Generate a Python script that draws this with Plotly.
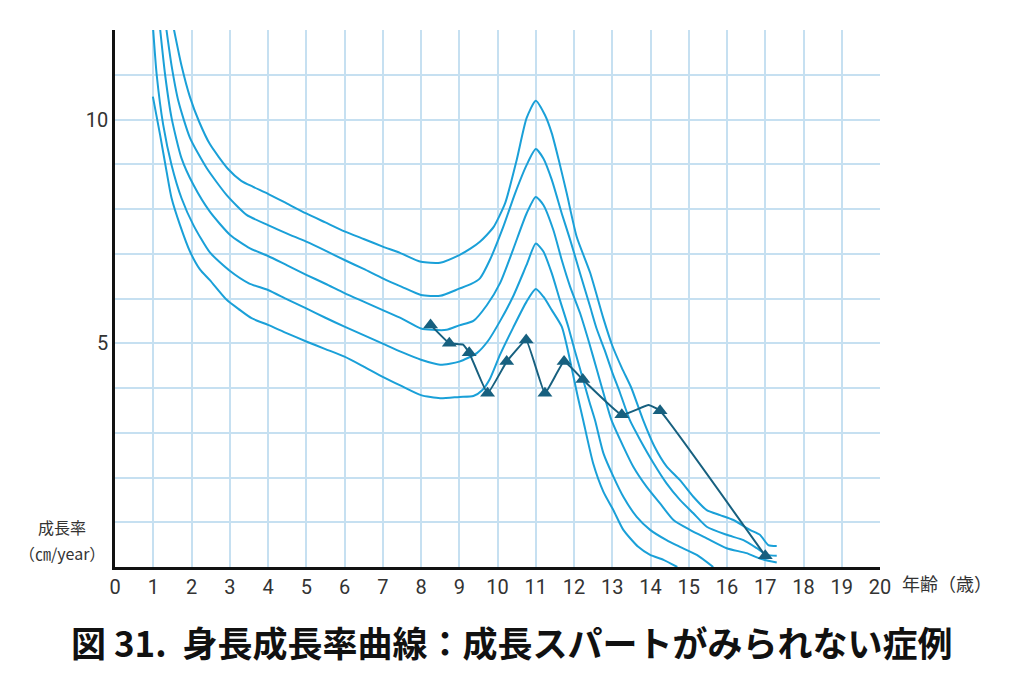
import plotly.graph_objects as go

# ---- data ----
ages_ticks = list(range(0, 21))
rate_ticks = list(range(0, 13))
rate_ticktext = ["" if v not in (5, 10) else str(v) for v in rate_ticks]

# percentile growth-rate curves (lowest A ... highest E)
curve_a_x = [0.99, 1.18, 1.35, 1.48, 1.7, 1.96, 2.22, 2.48, 2.92, 3.27, 3.57, 4.0, 4.5, 5.0, 5.5, 6.0, 6.5, 7.0, 7.5, 8.0, 8.5, 9.0, 9.37, 9.6, 9.8, 10.07, 10.41, 10.76, 11.0, 11.2, 11.42, 11.68, 11.85, 12.0, 12.1, 12.24, 12.5, 12.77, 13.03, 13.29, 13.68, 13.99, 14.34, 14.7]
curve_a_y = [10.51, 9.65, 8.83, 8.24, 7.64, 7.05, 6.65, 6.41, 5.97, 5.74, 5.56, 5.41, 5.22, 5.04, 4.87, 4.7, 4.48, 4.25, 4.04, 3.84, 3.77, 3.8, 3.82, 3.95, 4.2, 4.75, 5.35, 5.93, 6.21, 6.04, 5.74, 5.37, 4.8, 4.2, 3.8, 3.28, 2.32, 1.68, 1.27, 0.83, 0.45, 0.27, 0.16, 0.0]

curve_b_x = [0.99, 1.09, 1.26, 1.48, 1.74, 2.05, 2.48, 3.0, 3.5, 4.0, 4.5, 5.0, 5.5, 6.0, 6.5, 7.0, 7.5, 8.0, 8.5, 9.0, 9.46, 9.75, 10.07, 10.41, 10.76, 11.0, 11.2, 11.42, 11.63, 11.85, 12.0, 12.2, 12.4, 12.55, 12.77, 13.03, 13.29, 13.64, 13.99, 14.42, 14.77, 15.21, 15.64]
curve_b_y = [12.1, 11.0, 9.88, 8.98, 8.24, 7.64, 7.03, 6.62, 6.34, 6.19, 5.98, 5.78, 5.57, 5.37, 5.18, 4.99, 4.8, 4.63, 4.52, 4.59, 4.78, 5.05, 5.5, 6.05, 6.75, 7.23, 7.05, 6.56, 5.97, 5.37, 4.9, 4.3, 3.7, 3.28, 2.54, 2.02, 1.57, 1.12, 0.83, 0.6, 0.45, 0.27, 0.0]

curve_c_x = [1.17, 1.31, 1.48, 1.74, 2.05, 2.48, 3.01, 3.53, 4.0, 4.5, 5.0, 5.5, 6.0, 6.5, 7.0, 7.5, 8.0, 8.3, 8.67, 9.0, 9.37, 9.72, 10.07, 10.41, 10.76, 11.0, 11.2, 11.46, 11.68, 11.9, 12.16, 12.4, 12.6, 12.8, 12.98, 13.29, 13.55, 13.9, 14.25, 14.6, 15.03, 15.47, 15.99, 16.51, 16.86, 17.3]
curve_c_y = [12.1, 11.0, 10.03, 9.13, 8.54, 7.94, 7.42, 7.12, 6.95, 6.74, 6.53, 6.33, 6.12, 5.93, 5.74, 5.55, 5.33, 5.3, 5.3, 5.4, 5.5, 5.85, 6.35, 7.1, 7.9, 8.27, 8.09, 7.53, 6.86, 6.26, 5.67, 5.0, 4.4, 3.8, 3.28, 2.69, 2.24, 1.79, 1.42, 1.05, 0.83, 0.64, 0.42, 0.31, 0.19, 0.1]

curve_d_x = [1.33, 1.48, 1.66, 1.96, 2.4, 2.92, 3.44, 4.0, 4.5, 5.0, 5.5, 6.0, 6.5, 7.0, 7.5, 8.0, 8.5, 9.0, 9.3, 9.54, 9.8, 10.15, 10.46, 10.76, 11.0, 11.2, 11.42, 11.68, 11.9, 12.16, 12.42, 12.59, 12.8, 13.0, 13.2, 13.46, 13.73, 14.08, 14.42, 14.77, 15.12, 15.47, 15.99, 16.43, 16.78, 17.04, 17.3]
curve_d_y = [12.1, 11.2, 10.4, 9.59, 8.91, 8.31, 7.87, 7.64, 7.45, 7.27, 7.07, 6.86, 6.66, 6.45, 6.26, 6.08, 6.06, 6.22, 6.32, 6.45, 6.86, 7.6, 8.35, 8.98, 9.34, 9.13, 8.65, 7.9, 7.31, 6.56, 5.82, 5.33, 4.85, 4.35, 3.9, 3.28, 2.84, 2.32, 1.87, 1.5, 1.2, 0.9, 0.72, 0.6, 0.42, 0.27, 0.25]

curve_e_x = [1.52, 1.74, 1.96, 2.2, 2.48, 2.95, 3.3, 3.6, 4.0, 4.5, 5.0, 5.5, 6.0, 6.5, 7.0, 7.45, 8.0, 8.5, 9.0, 9.3, 9.54, 9.72, 9.9, 10.2, 10.5, 10.76, 11.0, 11.24, 11.42, 11.6, 11.81, 12.07, 12.42, 12.77, 13.0, 13.25, 13.5, 13.8, 14.1, 14.42, 14.77, 15.12, 15.47, 15.82, 16.17, 16.6, 16.86, 17.08, 17.3]
curve_e_y = [12.1, 11.2, 10.5, 9.95, 9.45, 8.9, 8.63, 8.5, 8.34, 8.12, 7.9, 7.7, 7.5, 7.33, 7.16, 7.02, 6.82, 6.8, 6.97, 7.12, 7.27, 7.42, 7.6, 8.13, 9.09, 10.03, 10.42, 10.1, 9.69, 9.1, 8.35, 7.38, 6.58, 5.55, 4.95, 4.45, 4.0, 3.3, 2.7, 2.25, 1.94, 1.57, 1.27, 1.16, 1.05, 0.83, 0.72, 0.49, 0.47]

# patient measurements (triangles) and the drawn connecting path
patient_x = [8.25, 8.74, 9.26, 9.74, 10.24, 10.75, 11.24, 11.74, 12.23, 13.25, 14.25, 17.0]
patient_y = [5.41, 5.0, 4.79, 3.88, 4.59, 5.07, 3.88, 4.59, 4.19, 3.4, 3.49, 0.25]
patient_path_x = [8.25, 8.74, 9.1, 9.26, 9.74, 10.24, 10.75, 11.24, 11.74, 12.23, 13.25, 13.95, 14.25, 17.0]
patient_path_y = [5.41, 5.0, 4.97, 4.79, 3.88, 4.59, 5.07, 3.88, 4.59, 4.19, 3.4, 3.62, 3.49, 0.25]

CURVE_COLOR = "#1aa0d8"
PATIENT_COLOR = "#17607f"
GRID_COLOR = "#c6e0f1"

fig = go.Figure()
for cx, cy in [(curve_a_x, curve_a_y), (curve_b_x, curve_b_y), (curve_c_x, curve_c_y),
               (curve_d_x, curve_d_y), (curve_e_x, curve_e_y)]:
    fig.add_trace(go.Scatter(x=cx, y=cy, mode="lines",
                             line=dict(color=CURVE_COLOR, width=2, shape="spline", smoothing=0.6),
                             hoverinfo="skip", showlegend=False))

fig.add_trace(go.Scatter(x=patient_path_x, y=patient_path_y, mode="lines",
                         line=dict(color=PATIENT_COLOR, width=2, shape="spline", smoothing=0.3),
                         showlegend=False, hoverinfo="skip"))
fig.add_trace(go.Scatter(x=patient_x, y=patient_y, mode="markers",
                         marker=dict(symbol="triangle-up", size=13, color=PATIENT_COLOR),
                         showlegend=False, cliponaxis=False))

fig.update_layout(
    width=1016, height=675,
    margin=dict(l=107, r=144, t=22, b=116),
    paper_bgcolor="white", plot_bgcolor="white",
    font=dict(family="Roboto, Noto Sans CJK JP", color="#333333"),
    xaxis=dict(range=[0, 20], tickmode="array", tickvals=ages_ticks,
               ticktext=[str(v) for v in ages_ticks],
               showgrid=True, gridcolor=GRID_COLOR, gridwidth=2,
               zeroline=False, showline=True, linecolor="#111111", linewidth=2.5,
               ticks="", tickfont=dict(size=20, color="#333333"), fixedrange=True),
    yaxis=dict(range=[0, 12], tickmode="array", tickvals=rate_ticks, ticktext=rate_ticktext,
               showgrid=True, gridcolor=GRID_COLOR, gridwidth=2,
               zeroline=False, showline=True, linecolor="#111111", linewidth=2.5,
               ticks="", tickfont=dict(size=20, color="#333333"), fixedrange=True),
)

fig.add_annotation(text="成長率", xref="paper", yref="paper",
                   x=-0.069, y=0.0745, xanchor="center", yanchor="middle",
                   showarrow=False, borderpad=0,
                   font=dict(size=16, family="Noto Sans CJK JP", color="#333333"))
fig.add_annotation(text="（㎝/year）", xref="paper", yref="paper",
                   x=-0.069, y=0.027, xanchor="center", yanchor="middle",
                   showarrow=False, borderpad=0,
                   font=dict(size=16, family="Noto Sans CJK JP", color="#333333"))
fig.add_annotation(text="年齢（歳）", xref="paper", yref="paper",
                   x=1.0876, y=-0.03, xanchor="center", yanchor="middle",
                   showarrow=False, font=dict(size=18, family="Noto Sans CJK JP", color="#333333"))
fig.add_annotation(text="<b>図 31.  身長成長率曲線：成長スパートがみられない症例</b>",
                   xref="paper", yref="paper", x=0.5186, y=-0.138,
                   xanchor="center", yanchor="middle", showarrow=False,
                   font=dict(size=35, family="Noto Sans CJK JP", color="#111111"))

fig.write_html("out.html")
